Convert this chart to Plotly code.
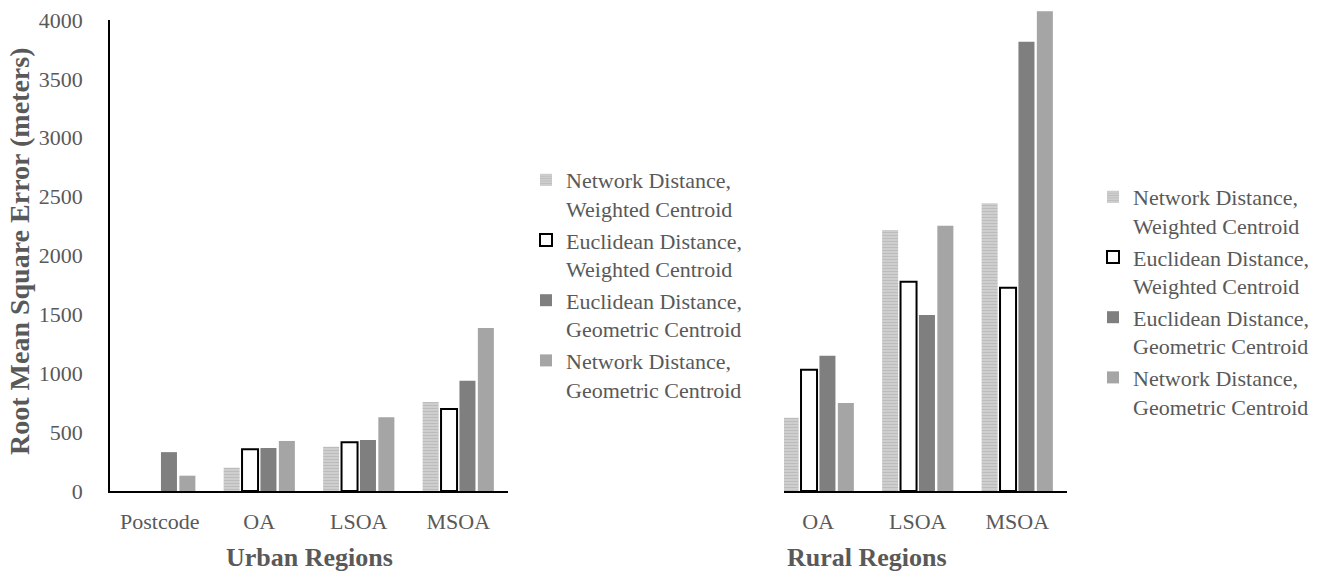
import plotly.graph_objects as go

# ---- data ----
series_names = [
    "Network Distance,<br>Weighted Centroid",
    "Euclidean Distance,<br>Weighted Centroid",
    "Euclidean Distance,<br>Geometric Centroid",
    "Network Distance,<br>Geometric Centroid",
]

urban_categories = ["Postcode", "OA", "LSOA", "MSOA"]
urban_net_weighted = [None, 198, 376, 756]
urban_euc_weighted = [None, 354, 413, 696]
urban_euc_geometric = [330, 365, 433, 937]
urban_net_geometric = [130, 425, 626, 1384]

rural_categories = ["OA", "LSOA", "MSOA"]
rural_net_weighted = [622, 2216, 2443]
rural_euc_weighted = [1030, 1777, 1726]
rural_euc_geometric = [1149, 1494, 3815]
rural_net_geometric = [747, 2252, 4075]

y_ticks = [0, 500, 1000, 1500, 2000, 2500, 3000, 3500, 4000]

# ---- styling ----
FONT = "Liberation Serif, Times New Roman, serif"
TEXT = "#595959"
W, H = 1341, 574


def marker_style(i):
    if i == 0:
        return dict(color="#CFCFCF",
                    pattern=dict(shape="-", fgcolor="#A3A3A3", bgcolor="#D4D4D4",
                                 size=3, solidity=0.5),
                    line=dict(width=0))
    if i == 1:
        return dict(color="#FFFFFF", line=dict(color="#000000", width=2))
    if i == 2:
        return dict(color="#7F7F7F", line=dict(width=0))
    return dict(color="#A5A5A5", line=dict(width=0))


fig = go.Figure()

urban_series = [urban_net_weighted, urban_euc_weighted, urban_euc_geometric, urban_net_geometric]
rural_series = [rural_net_weighted, rural_euc_weighted, rural_euc_geometric, rural_net_geometric]

for i, (name, vals) in enumerate(zip(series_names, urban_series)):
    fig.add_trace(go.Bar(x=urban_categories, y=vals, name=name, marker=marker_style(i),
                         xaxis="x", yaxis="y", legend="legend", legendgroup=f"u{i}"))

for i, (name, vals) in enumerate(zip(series_names, rural_series)):
    fig.add_trace(go.Bar(x=rural_categories, y=vals, name=name, marker=marker_style(i),
                         xaxis="x2", yaxis="y2", legend="legend2", legendgroup=f"r{i}"))


def px_x(p):
    return p / W


def px_y(p):
    return 1 - p / H


base_px, top_px = 491, 20
per_px = 4000 / (base_px - top_px)

legend_common = dict(
    font=dict(family=FONT, size=22, color=TEXT),
    bgcolor="rgba(0,0,0,0)",
    xanchor="left", yanchor="top",
    valign="top",
    itemclick=False, itemdoubleclick=False,
    tracegroupgap=0,
)


def label(text, x, y, size=26, angle=0):
    return dict(text=text, textangle=angle, x=px_x(x), y=px_y(y),
                xref="paper", yref="paper", xanchor="center", yanchor="middle",
                showarrow=False, font=dict(size=size, color=TEXT, family=FONT))


fig.update_layout(
    width=W, height=H,
    margin=dict(l=0, r=0, t=0, b=0, autoexpand=False),
    paper_bgcolor="white", plot_bgcolor="white",
    barmode="group",
    bargap=0.26, bargroupgap=0.13,
    font=dict(family=FONT, color=TEXT),
    xaxis=dict(domain=[px_x(110), px_x(508)], anchor="y",
               showline=True, linecolor="#000000", linewidth=1.5,
               showgrid=False, ticks="", tickfont=dict(size=22, color=TEXT),
               ticklabelstandoff=10, range=[-0.5, 3.5], fixedrange=True),
    yaxis=dict(domain=[px_y(base_px), px_y(top_px)], anchor="x",
               range=[0, 4000], tickvals=y_ticks,
               showline=True, linecolor="#000000", linewidth=1.5,
               showgrid=False, zeroline=False, ticks="",
               tickfont=dict(size=22, color=TEXT), ticklabelstandoff=21,
               fixedrange=True),
    xaxis2=dict(domain=[px_x(784), px_x(1067)], anchor="y2",
                showline=True, linecolor="#000000", linewidth=1.5,
                showgrid=False, ticks="", tickfont=dict(size=22, color=TEXT),
                ticklabelstandoff=10, range=[-0.344, 2.5], fixedrange=True),
    yaxis2=dict(domain=[px_y(base_px), 1.0], anchor="x2",
                range=[0, base_px * per_px],
                showline=False, showgrid=False, zeroline=False,
                showticklabels=False, ticks="", fixedrange=True),
    legend=dict(x=px_x(526), y=px_y(159), **legend_common),
    legend2=dict(x=px_x(1093), y=px_y(176), **legend_common),
    annotations=[
        label("<b>Root Mean Square Error (meters)</b>", 20, 252, size=28, angle=-90),
        label("<b>Urban Regions</b>", 309, 557),
        label("<b>Rural Regions</b>", 867, 557),
    ],
)

fig.write_html("out.html")
